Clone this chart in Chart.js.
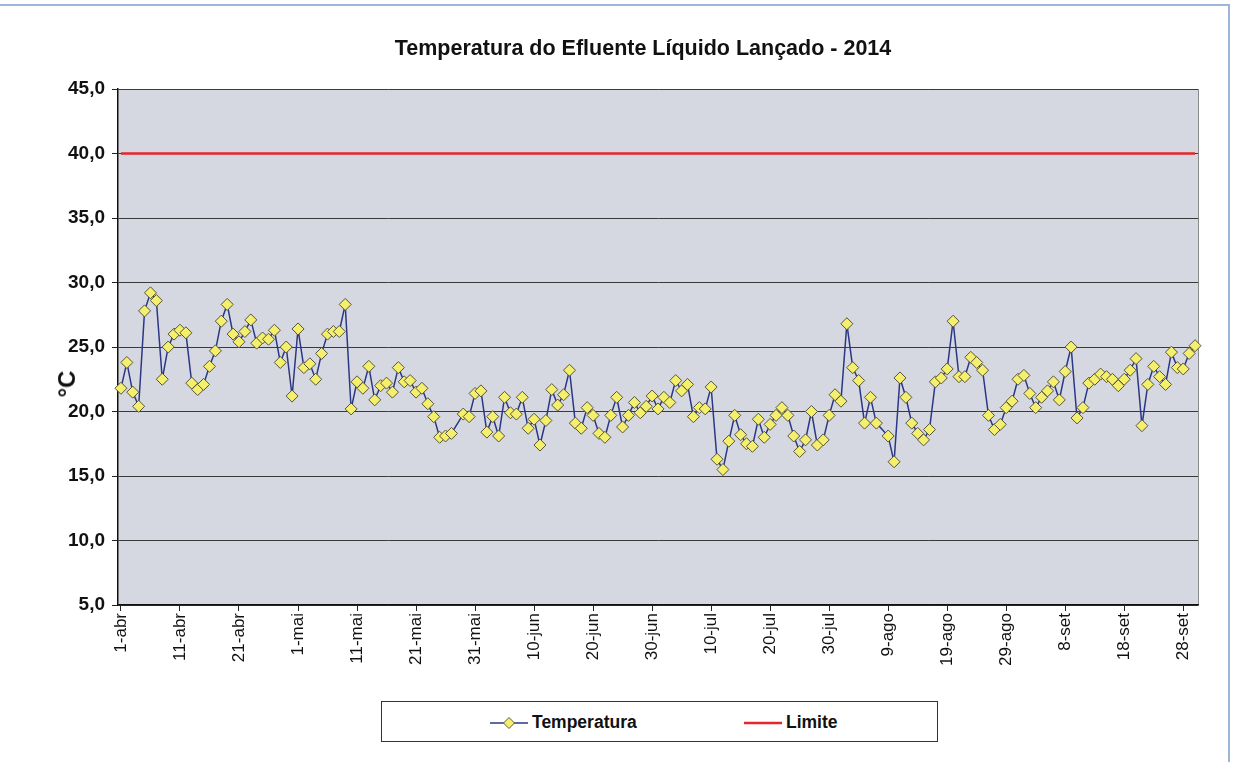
<!DOCTYPE html>
<html lang="pt">
<head>
<meta charset="utf-8">
<title>Temperatura do Efluente Líquido Lançado - 2014</title>
<script src="https://cdn.jsdelivr.net/npm/chart.js@4.4.1/dist/chart.umd.min.js"></script>
<style>
  html, body { margin: 0; padding: 0; background: #fff; }
  body { width: 1241px; height: 762px; position: relative; overflow: hidden; font-family: "Liberation Sans", Arial, sans-serif; }
  #frame { position: absolute; left: -4px; top: 4px; width: 1232px; height: 780px; border-top: 2px solid #9db6dc; border-right: 2px solid #9db6dc; }
  #chart { position: absolute; left: 0; top: 0; }
  #titulo { position: absolute; left: 643px; top: 35px; transform: translateX(-50%); white-space: nowrap; font-weight: bold; font-size: 21.5px; line-height: 26px; color: #111; }
  #eixoY { position: absolute; left: 67px; top: 384px; transform: translate(-50%, -50%) rotate(-90deg); font-weight: bold; font-size: 24px; color: #111; }
  #legenda { position: absolute; left: 381px; top: 701px; width: 555px; height: 39px; border: 1px solid #333; background: #fff; }
  .item { position: absolute; top: 10px; display: flex; align-items: center; font-weight: bold; font-size: 17.5px; color: #111; }
  .item svg { margin-right: 4px; }
</style>
</head>
<body>
<div id="frame"></div>
<canvas id="chart" width="1241" height="762"></canvas>
<div id="titulo">Temperatura do Efluente Líquido Lançado - 2014</div>
<div id="eixoY">°C</div>
<div id="legenda">
  <div class="item" style="left:108px">
    <svg width="38" height="14"><line x1="0" y1="7" x2="38" y2="7" stroke="#2a3784" stroke-width="1.5"/><polygon points="19,1.5 24.5,7 19,12.5 13.5,7" fill="#f4ef6c" stroke="#5c5a3a" stroke-width="1"/></svg>Temperatura
  </div>
  <div class="item" style="left:362px">
    <svg width="38" height="14"><line x1="0" y1="7" x2="38" y2="7" stroke="#e5262a" stroke-width="2.5"/></svg>Limite
  </div>
</div>
<script>
// dias de 1-abr a 30-set
const meses = ["abr", "mai", "jun", "jul", "ago", "set"];
const diasNoMes = [30, 31, 30, 31, 31, 30];
const dias = [];
meses.forEach((m, k) => {
  for (let d = 1; d <= diasNoMes[k]; d++) dias.push(`${d}-${m}`);
});

// temperatura diária (°C), null = sem leitura
const temperatura = [
  21.8, 23.8, 21.5, 20.4, 27.8, 29.2, 28.6, 22.5, 25.0, 26.0,
  26.3, 26.1, 22.2, 21.7, 22.1, 23.5, 24.7, 27.0, 28.3, 26.0,
  25.4, 26.2, 27.1, 25.3, 25.7, 25.6, 26.3, 23.8, 25.0, 21.2,
  26.4, 23.4, 23.7, 22.5, 24.5, 26.0, 26.2, 26.2, 28.3, 20.2,
  22.3, 21.8, 23.5, 20.9, 22.0, 22.2, 21.5, 23.4, 22.3, 22.4,
  21.5, 21.8, 20.6, 19.6, 18.0, 18.1, 18.3, null, 19.8, 19.6,
  21.4, 21.6, 18.4, 19.6, 18.1, 21.1, 19.9, 19.8, 21.1, 18.7,
  19.4, 17.4, 19.3, 21.7, 20.5, 21.3, 23.2, 19.1, 18.7, 20.3,
  19.7, 18.3, 18.0, 19.7, 21.1, 18.8, 19.7, 20.7, 19.9, 20.4,
  21.2, 20.2, 21.1, 20.7, 22.4, 21.6, 22.1, 19.6, 20.3, 20.2,
  21.9, 16.3, 15.5, 17.7, 19.7, 18.2, 17.5, 17.3, 19.4, 18.0,
  19.0, 19.7, 20.3, 19.7, 18.1, 16.9, 17.8, 20.0, 17.4, 17.8,
  19.7, 21.3, 20.8, 26.8, 23.4, 22.4, 19.1, 21.1, 19.1, null,
  18.1, 16.1, 22.6, 21.1, 19.1, 18.3, 17.8, 18.6, 22.3, 22.6,
  23.3, 27.0, 22.7, 22.7, 24.2, 23.8, 23.2, 19.7, 18.6, 19.0,
  20.3, 20.8, 22.5, 22.8, 21.4, 20.3, 21.1, 21.6, 22.3, 20.9,
  23.1, 25.0, 19.5, 20.3, 22.2, 22.5, 22.9, 22.7, 22.5, 22.0,
  22.5, 23.2, 24.1, 18.9, 22.1, 23.5, 22.7, 22.1, 24.6, 23.4,
  23.3, 24.5, 25.1,
];

const LIMITE = 40;
const yMin = 5, yMax = 45, yPasso = 5;

// fundo cinza da área de plotagem + borda direita
const plotBg = {
  id: "plotBg",
  beforeDraw(chart) {
    const { ctx, chartArea: a } = chart;
    ctx.save();
    ctx.fillStyle = "#d6d8e1";
    ctx.fillRect(a.left, a.top, a.right - a.left, a.bottom - a.top);
    ctx.strokeStyle = "#8a8a8a";
    ctx.lineWidth = 1;
    ctx.beginPath();
    ctx.moveTo(a.right + 0.5, a.top);
    ctx.lineTo(a.right + 0.5, a.bottom);
    ctx.stroke();
    ctx.restore();
  },
};

new Chart(document.getElementById("chart"), {
  type: "line",
  data: {
    labels: dias,
    datasets: [
      {
        label: "Limite",
        data: dias.map(() => LIMITE),
        borderColor: "#e5262a",
        borderWidth: 2.5,
        pointRadius: 0,
        order: 2,
      },
      {
        label: "Temperatura",
        data: temperatura,
        spanGaps: true,
        borderColor: "#2a3784",
        borderWidth: 1.5,
        tension: 0,
        pointStyle: "rectRot",
        pointRadius: 6,
        pointHoverRadius: 6,
        pointBorderWidth: 1,
        pointBackgroundColor: "#f4ef6c",
        pointBorderColor: "#55533a",
        order: 1,
      },
    ],
  },
  options: {
    responsive: false,
    animation: false,
    events: [],
    layout: { padding: { left: 0, right: 43, top: 89, bottom: 97 } },
    plugins: {
      legend: { display: false },
      title: { display: false },
      tooltip: { enabled: false },
    },
    scales: {
      x: {
        type: "category",
        offset: true,
        afterFit: (s) => { s.height = 60; },
        grid: {
          offset: false,
          drawOnChartArea: false,
          tickLength: 6,
          tickColor: (c) => (c.index % 10 === 0 ? "#222" : "rgba(0,0,0,0)"),
        },
        border: { color: "#111", width: 1.5 },
        ticks: {
          autoSkip: false,
          minRotation: 90,
          maxRotation: 90,
          padding: 2,
          color: "#111",
          font: { family: "Liberation Sans", size: 17 },
          callback: (v, i) => (i % 10 === 0 ? dias[i] : ""),
        },
      },
      y: {
        min: yMin,
        max: yMax,
        afterFit: (s) => { s.width = 118; },
        grid: { color: "#3a3a3a", lineWidth: 1, tickLength: 6, tickColor: "#222" },
        border: { color: "#111", width: 1.5 },
        ticks: {
          stepSize: yPasso,
          padding: 7,
          color: "#111",
          font: { family: "Liberation Sans", size: 19, weight: "bold" },
          callback: (v) => v.toFixed(1).replace(".", ","),
        },
      },
    },
  },
  plugins: [plotBg],
});
</script>
</body>
</html>
